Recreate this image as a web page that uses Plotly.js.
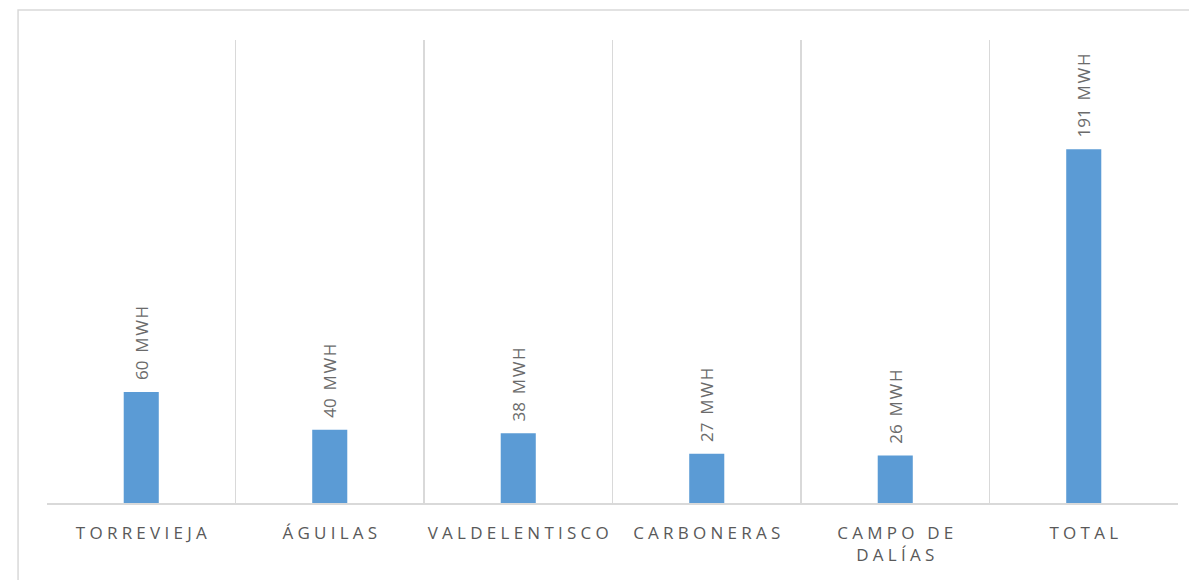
<!DOCTYPE html>
<html>
<head>
<meta charset="utf-8">
<script src="https://cdn.plot.ly/plotly-3.0.1.min.js"></script>
<style>html,body{margin:0;padding:0;background:#fff;}#chart{width:1189px;height:580px;}</style>
</head>
<body>
<div id="chart"></div>
<script>
const categories = ["TORREVIEJA", "ÁGUILAS", "VALDELENTISCO", "CARBONERAS", "CAMPO DE<br>DALÍAS", "TOTAL"];
const values = [60, 39.6, 37.6, 26.6, 25.6, 191];
const unit = "MWH";

const SP = "\u2005";
function spaced(s) {
  return s.split("<br>").map(line => line.split("").join(SP)).join("<br>");
}
const tickText = categories.map(spaced);

const trace = {
  type: "bar",
  x: categories,
  y: values,
  marker: { color: "#5b9bd5" },
  width: 0.186,
  texttemplate: "\u00a0\u00a0%{y:.0f}\u200a \u200aM\u200aW\u200aH",
  textposition: "outside",
  textangle: -90,
  constraintext: "none",
  cliponaxis: false,
  textfont: { family: "Open Sans, sans-serif", size: 17, color: "#6b6b6b" },
  hoverinfo: "skip"
};

const layout = {
  width: 1189,
  height: 580,
  margin: { l: 47, r: 11, t: 40, b: 77 },
  paper_bgcolor: "#ffffff",
  plot_bgcolor: "#ffffff",
  showlegend: false,
  xaxis: {
    type: "category",
    tickson: "boundaries",
    tickvals: categories,
    ticktext: tickText,
    tickangle: 0,
    showgrid: true,
    gridcolor: "#d9d9d9",
    gridwidth: 1.5,
    showline: true,
    linecolor: "#d9d9d9",
    linewidth: 1.5,
    ticks: "",
    ticklabelstandoff: 14,
    tickfont: { family: "Open Sans, sans-serif", size: 17, color: "#595959" },
    range: [-0.5, 5.5],
    fixedrange: true
  },
  yaxis: {
    range: [0, 250],
    showgrid: false,
    zeroline: false,
    showticklabels: false,
    ticks: "",
    fixedrange: true
  },
  shapes: [{
    type: "rect",
    xref: "paper", yref: "paper",
    x0: -0.0256, x1: 1.05, y0: -0.3, y1: 1.0648,
    line: { color: "#d9d9d9", width: 1.5 },
    fillcolor: "rgba(0,0,0,0)",
    layer: "below"
  }]
};

Plotly.newPlot("chart", [trace], layout, { displayModeBar: false, staticPlot: true });
</script>
</body>
</html>
